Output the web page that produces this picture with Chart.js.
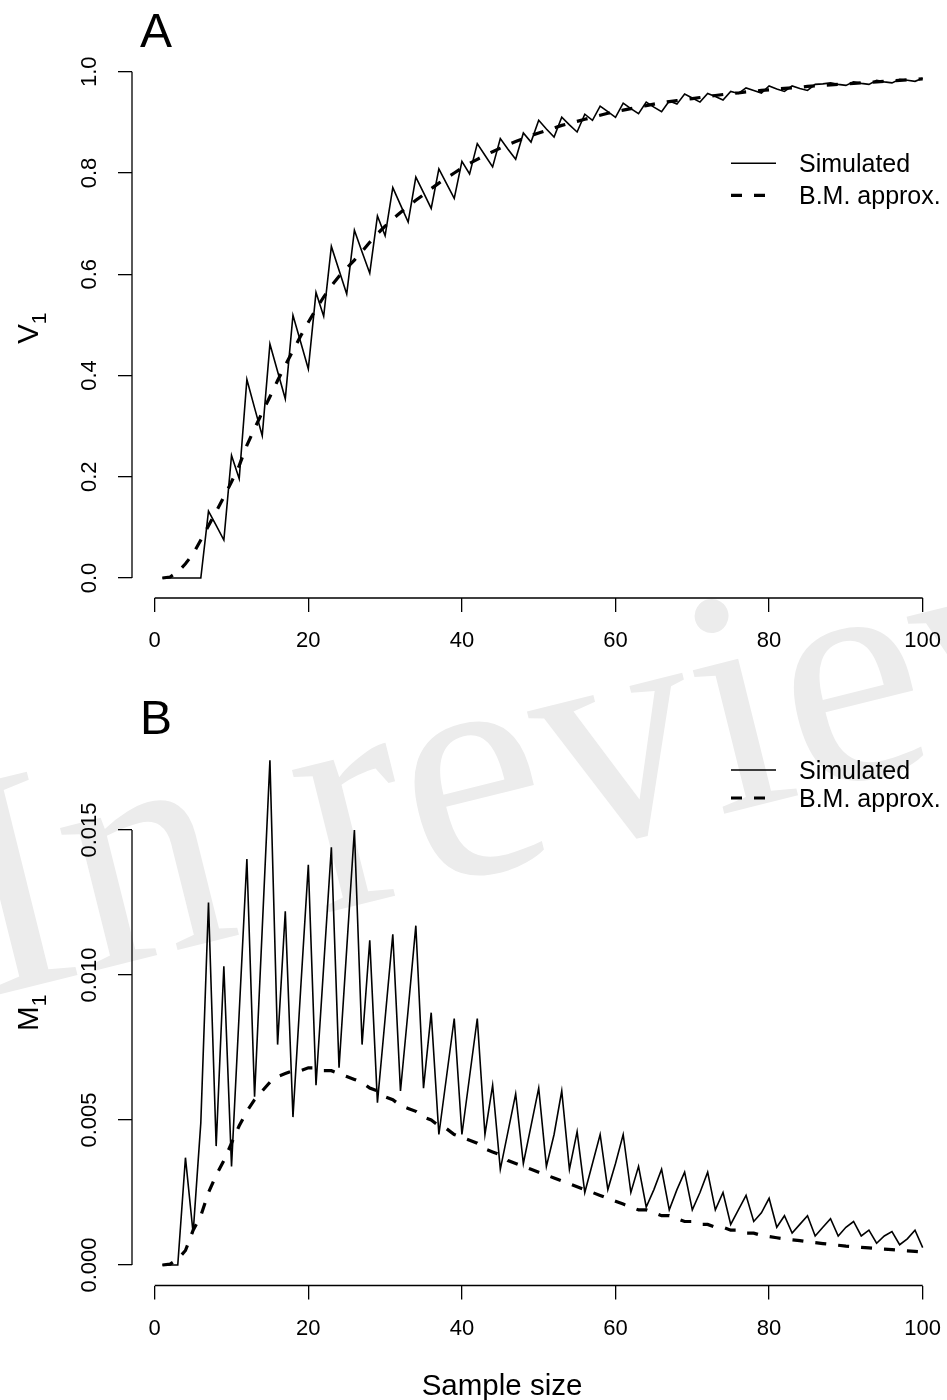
<!DOCTYPE html>
<html>
<head>
<meta charset="utf-8">
<script src="https://cdn.jsdelivr.net/npm/chart.js@4.4.1/dist/chart.umd.min.js"></script>
<style>
  html, body { margin: 0; padding: 0; background: #fff; overflow: hidden; }
  #page { position: relative; width: 947px; height: 1400px; overflow: hidden; }
  #stamp, canvas { position: absolute; left: 0; }
  #stamp { top: 0; }
  #panelA { top: 0; }
  #panelB { top: 700px; }
</style>
</head>
<body>
<div id="page">
  <svg id="stamp" width="947" height="1400">
    <text x="-15" y="998" transform="rotate(-14 -15 998)" font-family="Liberation Serif, Times New Roman, serif" font-size="320" fill="#ececec">In review</text>
  </svg>
  <canvas id="panelA" width="1004" height="700"></canvas>
  <canvas id="panelB" width="1004" height="700"></canvas>
</div>
<script>
// sample size n = 1..100
const sampleSize = [1,2,3,4,5,6,7,8,9,10,11,12,13,14,15,16,17,18,19,20,
  21,22,23,24,25,26,27,28,29,30,31,32,33,34,35,36,37,38,39,40,
  41,42,43,44,45,46,47,48,49,50,51,52,53,54,55,56,57,58,59,60,
  61,62,63,64,65,66,67,68,69,70,71,72,73,74,75,76,77,78,79,80,
  81,82,83,84,85,86,87,88,89,90,91,92,93,94,95,96,97,98,99,100];

// panel A: V1
const simV1 = [0,0,0,0,0,0,0.132,0.104,0.075,0.242,
  0.196,0.392,0.336,0.281,0.462,0.408,0.354,0.519,0.466,0.413,
  0.564,0.517,0.655,0.608,0.561,0.687,0.644,0.602,0.715,0.676,
  0.771,0.737,0.703,0.792,0.761,0.730,0.808,0.779,0.750,0.823,
  0.798,0.858,0.835,0.812,0.868,0.847,0.827,0.879,0.861,0.904,
  0.887,0.871,0.910,0.895,0.881,0.916,0.904,0.932,0.921,0.910,
  0.938,0.927,0.917,0.940,0.930,0.921,0.942,0.936,0.956,0.948,
  0.940,0.957,0.951,0.944,0.961,0.957,0.968,0.963,0.958,0.972,
  0.966,0.961,0.972,0.967,0.963,0.975,0.976,0.978,0.975,0.973,
  0.980,0.977,0.975,0.983,0.980,0.978,0.985,0.983,0.981,0.987];
const bmV1 = [0,0.002,0.012,0.028,0.048,0.075,0.103,0.131,0.160,0.190,
  0.222,0.262,0.295,0.327,0.358,0.390,0.420,0.449,0.478,0.505,
  0.531,0.555,0.577,0.596,0.612,0.628,0.645,0.663,0.680,0.695,
  0.709,0.722,0.734,0.746,0.757,0.769,0.780,0.790,0.800,0.810,
  0.819,0.827,0.835,0.842,0.849,0.856,0.862,0.868,0.874,0.879,
  0.884,0.889,0.894,0.898,0.902,0.906,0.910,0.914,0.918,0.921,
  0.924,0.927,0.930,0.933,0.936,0.939,0.941,0.943,0.945,0.947,
  0.949,0.951,0.953,0.955,0.957,0.958,0.960,0.961,0.963,0.964,
  0.966,0.967,0.968,0.969,0.971,0.972,0.973,0.974,0.975,0.976,
  0.977,0.978,0.979,0.980,0.981,0.982,0.983,0.984,0.985,0.986];

// panel B: M1
const simM1 = [0,0,0,0.0037,0.0011,0.0049,0.0125,0.0041,0.0103,0.0034,
  0.0087,0.0140,0.0058,0.0116,0.0174,0.0076,0.0122,0.0051,0.0095,0.0138,
  0.0062,0.0103,0.0144,0.0068,0.0109,0.0150,0.0076,0.0112,0.0056,0.0085,
  0.0114,0.0060,0.0088,0.0117,0.0061,0.0087,0.0045,0.0065,0.0085,0.0045,
  0.0065,0.0085,0.0045,0.0062,0.0033,0.0046,0.0059,0.0035,0.0048,0.0061,
  0.0034,0.0045,0.0060,0.0033,0.0046,0.0025,0.0035,0.0045,0.0026,0.0035,
  0.0045,0.0025,0.0034,0.0020,0.0026,0.0033,0.0019,0.0026,0.0032,0.0019,
  0.0025,0.0032,0.0019,0.0025,0.0014,0.0019,0.0024,0.0015,0.0018,0.0023,
  0.0013,0.0017,0.0011,0.0014,0.0017,0.0010,0.0013,0.0016,0.0010,0.0013,
  0.0015,0.0010,0.0012,0.00075,0.0010,0.00115,0.0007,0.0009,0.0012,0.0006];
const bmM1 = [0,0.00003,0.0002,0.0005,0.0012,0.0017,0.0025,0.0031,0.0036,0.0042,
  0.0048,0.0053,0.0057,0.0060,0.0063,0.0065,0.0066,0.0067,0.0067,0.0068,
  0.0068,0.0067,0.0067,0.0066,0.0065,0.0064,0.0063,0.0061,0.0060,0.0058,
  0.0057,0.0055,0.0054,0.0053,0.0051,0.0050,0.0048,0.0047,0.0045,0.0044,
  0.0043,0.0042,0.0040,0.0039,0.0038,0.0036,0.0035,0.0034,0.0033,0.0032,
  0.0031,0.0030,0.0029,0.0028,0.0027,0.0026,0.0025,0.0024,0.0023,0.0022,
  0.0021,0.0020,0.0019,0.0019,0.0018,0.0017,0.0017,0.0016,0.0015,0.0015,
  0.0014,0.0014,0.0013,0.0013,0.0012,0.0012,0.0011,0.0011,0.00102,0.00098,
  0.00094,0.0009,0.00087,0.00084,0.0008,0.00077,0.00074,0.00071,0.00068,0.00065,
  0.00063,0.00061,0.00059,0.00057,0.00055,0.00053,0.00051,0.00049,0.00047,0.00045];

const xTicks = [0, 20, 40, 60, 80, 100];
const v1Ticks = [0, 0.2, 0.4, 0.6, 0.8, 1.0];
const m1Ticks = [0, 0.005, 0.010, 0.015];

const FONT = '"Liberation Sans", Arial, Helvetica, sans-serif';
Chart.defaults.font.family = FONT;
Chart.defaults.color = '#000';

// R-like extras: axis lines between end ticks, panel letter, y label with subscript, legend
const rDecor = {
  id: 'rDecor',
  afterDraw(chart, args, o) {
    const { ctx, chartArea: a, scales: { x, y } } = chart;
    ctx.save();
    ctx.strokeStyle = '#000';
    ctx.fillStyle = '#000';
    ctx.lineWidth = 1.3;
    ctx.beginPath();
    ctx.moveTo(x.getPixelForValue(x.ticks[0].value), a.bottom);
    ctx.lineTo(x.getPixelForValue(x.ticks[x.ticks.length - 1].value), a.bottom);
    ctx.moveTo(a.left, y.getPixelForValue(y.ticks[0].value));
    ctx.lineTo(a.left, y.getPixelForValue(y.ticks[y.ticks.length - 1].value));
    ctx.stroke();

    ctx.textBaseline = 'alphabetic';
    ctx.textAlign = 'left';
    ctx.font = '48px ' + FONT;
    ctx.fillText(o.letter, 140, o.letterY);

    // y label, rotated, with subscript
    ctx.save();
    ctx.translate(38, (a.top + a.bottom) / 2);
    ctx.rotate(-Math.PI / 2);
    ctx.font = '29.5px ' + FONT;
    const w1 = ctx.measureText(o.yTitle).width;
    ctx.font = '21px ' + FONT;
    const w2 = ctx.measureText(o.ySub).width;
    const sx = -(w1 + w2) / 2;
    ctx.font = '29.5px ' + FONT;
    ctx.fillText(o.yTitle, sx, 0);
    ctx.font = '21px ' + FONT;
    ctx.fillText(o.ySub, sx + w1, 8);
    ctx.restore();

    // legend
    ctx.font = '25px ' + FONT;
    chart.data.datasets.forEach((ds, i) => {
      const ly = o.legendY + i * o.legendGap;
      ctx.beginPath();
      ctx.lineWidth = ds.borderWidth;
      ctx.setLineDash(ds.borderDash || []);
      ctx.moveTo(731, ly);
      ctx.lineTo(776, ly);
      ctx.stroke();
      ctx.setLineDash([]);
      ctx.fillText(ds.label, 799, ly + 9);
    });

    if (o.xTitle) {
      ctx.textAlign = 'center';
      ctx.font = '29.5px ' + FONT;
      ctx.fillText(o.xTitle, 502, o.xTitleY);
    }
    ctx.restore();
  }
};

function makePanel(id, sim, bm, yTicks, p) {
  const toPts = vals => sampleSize.map((n, i) => ({ x: n, y: vals[i] }));
  const axisGrid = { drawOnChartArea: false, drawTicks: true, tickLength: 14, color: '#000', lineWidth: 1.3 };
  return new Chart(document.getElementById(id), {
    type: 'line',
    data: {
      datasets: [
        { label: 'Simulated', data: toPts(sim), borderColor: '#000', borderWidth: 1.6,
          pointRadius: 0, tension: 0, fill: false },
        { label: 'B.M. approx.', data: toPts(bm), borderColor: '#000', borderWidth: 3.2,
          borderDash: [11, 12], pointRadius: 0, tension: 0, fill: false }
      ]
    },
    options: {
      responsive: false,
      animation: false,
      devicePixelRatio: 1,
      layout: { padding: { top: p.top, right: 50.9, bottom: 0, left: 0 } },
      plugins: {
        legend: { display: false },
        tooltip: { enabled: false },
        rDecor: p.decor
      },
      scales: {
        x: {
          type: 'linear',
          min: -2.96,
          max: 103.96,
          afterBuildTicks: s => { s.ticks = xTicks.map(v => ({ value: v })); },
          afterFit: s => { s.height = p.xHeight; },
          grid: axisGrid,
          border: { display: false },
          ticks: { font: { size: 22 }, padding: 16, autoSkip: false, maxRotation: 0,
                   callback: v => String(v) }
        },
        y: {
          type: 'linear',
          min: p.yMin,
          max: p.yMax,
          afterBuildTicks: s => { s.ticks = yTicks.map(v => ({ value: v })); },
          afterFit: s => { s.width = 132; },
          grid: axisGrid,
          border: { display: false },
          ticks: { font: { size: 22 }, minRotation: 90, maxRotation: 90, crossAlign: 'center',
                   padding: p.yPad, autoSkip: false, callback: v => v.toFixed(p.dec) }
        }
      }
    },
    plugins: [rDecor]
  });
}

makePanel('panelA', simV1, bmV1, v1Ticks, {
  top: 58.3, xHeight: 102, yMin: -0.0395, yMax: 1.0265, yPad: 12.7, dec: 1,
  decor: { letter: 'A', letterY: 47, yTitle: 'V', ySub: '1', legendY: 163.3, legendGap: 32 }
});
makePanel('panelB', simM1, bmM1, m1Ticks, {
  top: 40, xHeight: 114.5, yMin: -0.000707, yMax: 0.018103, yPad: 0.5, dec: 3,
  decor: { letter: 'B', letterY: 34, yTitle: 'M', ySub: '1', legendY: 70, legendGap: 28,
           xTitle: 'Sample size', xTitleY: 695 }
});
</script>
</body>
</html>
